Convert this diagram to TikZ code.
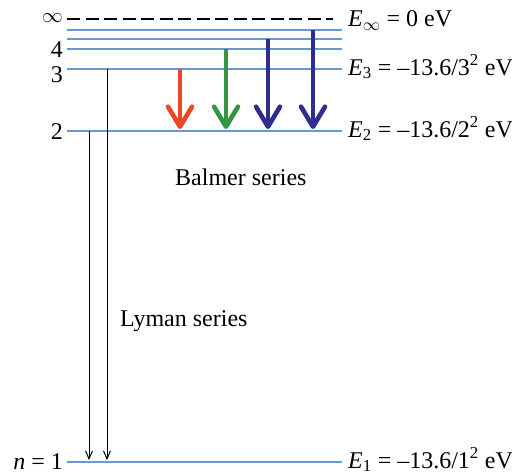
\documentclass[tikz,border=0pt]{standalone}
\usepackage{fontspec}
\setmainfont{Liberation Serif}
\usetikzlibrary{arrows.meta}
\definecolor{levblue}{RGB}{104,154,210}
\definecolor{bred}{RGB}{236,72,40}
\definecolor{bgreen}{RGB}{52,150,64}
\definecolor{bblue}{RGB}{48,46,140}
\newcommand{\biginf}{{\fontsize{20}{20}\selectfont$\infty$}}
\newcommand{\subinf}{{\fontsize{18}{18}\selectfont$\infty$}}
\tikzset{
  level/.style={draw=levblue, line width=1.4pt},
  inflevel/.style={draw=black, line width=1.2pt, dash pattern=on 13pt off 5.5pt},
  balmer/.style={line width=4.6pt, -{Straight Barb[length=20pt,width=24pt,round]}},
  lyman/.style={line width=1pt, -{Straight Barb[length=8pt,width=7pt]}},
  lbl/.style={inner sep=0pt, anchor=base east},
  rlbl/.style={inner sep=0pt, anchor=base west},
}
\begin{document}
\begin{tikzpicture}[x=1pt,y=-1pt, font=\rmfamily\fontsize{24}{28}\selectfont]
\useasboundingbox (0,0) rectangle (512,474);
% level endpoints
\coordinate (Iinf-a) at (67,19);  \coordinate (Iinf-b) at (333,19);
\coordinate (L6-a) at (67,30);    \coordinate (L6-b) at (342,30);
\coordinate (L5-a) at (67,39);    \coordinate (L5-b) at (342,39);
\coordinate (L4-a) at (67,49);    \coordinate (L4-b) at (342,49);
\coordinate (L3-a) at (67,69);    \coordinate (L3-b) at (342,69);
\coordinate (L2-a) at (67,131);   \coordinate (L2-b) at (342,131);
\coordinate (L1-a) at (67,462);   \coordinate (L1-b) at (342,462);
\draw[inflevel] (Iinf-a) -- (Iinf-b);
\foreach \n in {6,5,4,3,2,1} {\draw[level] (L\n-a) -- (L\n-b);}
% left labels
\node[inner sep=0pt, anchor=east] (ninf) at (63,18) {\biginf};
\node[lbl] (n4) at (63,57) {4};
\node[lbl] (n3) at (63,82) {3};
\node[lbl] (n2) at (63,139) {2};
\node[lbl] (n1) at (63,469) {\textit{n} = 1};
% right labels
\node[rlbl] (Einf) at (348,26.5) {\textit{E}\textsubscript{\subinf} = 0 eV};
\node[rlbl] (E3) at (348,75) {\textit{E}\textsubscript{3} = –13.6/3\textsuperscript{2} eV};
\node[rlbl] (E2) at (348,137) {\textit{E}\textsubscript{2} = –13.6/2\textsuperscript{2} eV};
\node[rlbl] (E1) at (348,468) {\textit{E}\textsubscript{1} = –13.6/1\textsuperscript{2} eV};
% series labels
\node[rlbl] (balmer) at (175,185) {Balmer series};
\node[rlbl] (lyman) at (120,326) {Lyman series};
% Balmer arrows
\coordinate (ba1) at (180,69);  \coordinate (bb1) at (180,129);
\coordinate (ba2) at (226,49);  \coordinate (bb2) at (226,129);
\coordinate (ba3) at (268,39);  \coordinate (bb3) at (268,129);
\coordinate (ba4) at (313,30);  \coordinate (bb4) at (313,129);
\draw[balmer, bred] (ba1) -- (bb1);
\draw[balmer, bgreen] (ba2) -- (bb2);
\draw[balmer, bblue] (ba3) -- (bb3);
\draw[balmer, bblue] (ba4) -- (bb4);
% Lyman arrows
\coordinate (la1) at (89,131);  \coordinate (lb1) at (89,460);
\coordinate (la2) at (107,69);  \coordinate (lb2) at (107,460);
\draw[lyman] (la1) -- (lb1);
\draw[lyman] (la2) -- (lb2);
\end{tikzpicture}
\end{document}
